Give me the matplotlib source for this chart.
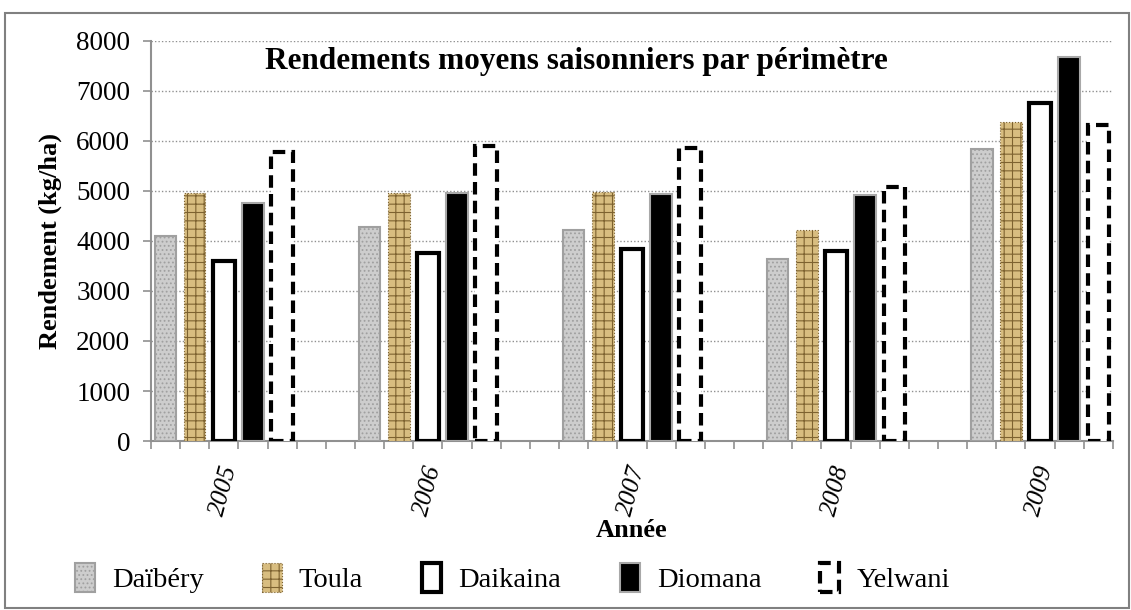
import matplotlib.pyplot as plt
from matplotlib.patches import Rectangle

plt.rcParams['font.family'] = ['Liberation Serif', 'DejaVu Serif']
plt.rcParams['hatch.linewidth'] = 0.8

years = ["2005", "2006", "2007", "2008", "2009"]
daibery = [4100, 4280, 4220, 3640, 5840]
toula = [4950, 4960, 4980, 4220, 6380]
daikaina = [3600, 3760, 3830, 3800, 6760]
diomana = [4750, 4950, 4930, 4920, 7680]
yelwani = [5780, 5900, 5850, 5080, 6310]

series = [
    ("Daïbéry", daibery, dict(facecolor="#cdcdcd", edgecolor="#a0a0a0", hatch="....", linewidth=1.5)),
    ("Toula", toula, dict(facecolor="#d8bd80", edgecolor="#7d6230", hatch="++", linewidth=0.8, linestyle=":")),
    ("Daikaina", daikaina, dict(facecolor="white", edgecolor="black", linewidth=3)),
    ("Diomana", diomana, dict(facecolor="black", edgecolor="#a8a8a8", linewidth=1.5)),
    ("Yelwani", yelwani, dict(facecolor="white", edgecolor="black", linewidth=3, linestyle=(0, (3, 1.5)))),
]

fig = plt.figure(figsize=(11.31, 6.10), dpi=100)
ax = fig.add_axes([0.1335, 0.277, 0.8505, 0.656])

# 7 slots per group (5 bars + 2 gap), last group without trailing gap
slot = 7
for j, (name, vals, style) in enumerate(series):
    xs = [g * slot + j + 0.5 for g in range(len(years))]
    ax.bar(xs, vals, width=0.74, label=name, zorder=3, **style)

n_slots = slot * (len(years) - 1) + 5
ax.set_xlim(0, n_slots)
ax.set_ylim(0, 8000)
ax.set_yticks(range(0, 8001, 1000))
ax.set_xticks([g * slot + 2.5 for g in range(len(years))])
ax.set_xticklabels(years, rotation=75, style="italic", fontsize=18.5)
ax.set_xticks(range(0, n_slots + 1), minor=True)
ax.tick_params(axis="x", which="major", length=0, pad=16)
ax.tick_params(axis="x", which="minor", length=6, color="#909090", width=1.2)
ax.tick_params(axis="y", length=6, color="#909090", width=1.2, labelsize=19.5, pad=9)

ax.grid(axis="y", linestyle=(0, (1, 1.5)), color="#909090", linewidth=1, zorder=0)
for side in ["top", "right"]:
    ax.spines[side].set_visible(False)
for side in ["left", "bottom"]:
    ax.spines[side].set_color("#909090")
    ax.spines[side].set_linewidth(1.5)

ax.set_ylabel("Rendement (kg/ha)", fontsize=19, fontweight="bold", labelpad=10)
ax.set_xlabel("Année", fontsize=19, fontweight="bold", labelpad=0)
ax.text(0.442, 0.985, "Rendements moyens saisonniers par périmètre", transform=ax.transAxes,
        ha="center", va="top", fontsize=22.5, fontweight="bold", zorder=5)

fig.legend(loc="center", bbox_to_anchor=(0.453, 0.052), ncol=5, frameon=False, fontsize=20.5,
           handlelength=0.7, handleheight=1.2, handletextpad=0.6, columnspacing=2.05)

fig.patches.append(Rectangle((0.004, 0.003), 0.994, 0.976, transform=fig.transFigure,
                             fill=False, edgecolor="#808080", linewidth=1.5))

plt.savefig("out.png", dpi=100)
